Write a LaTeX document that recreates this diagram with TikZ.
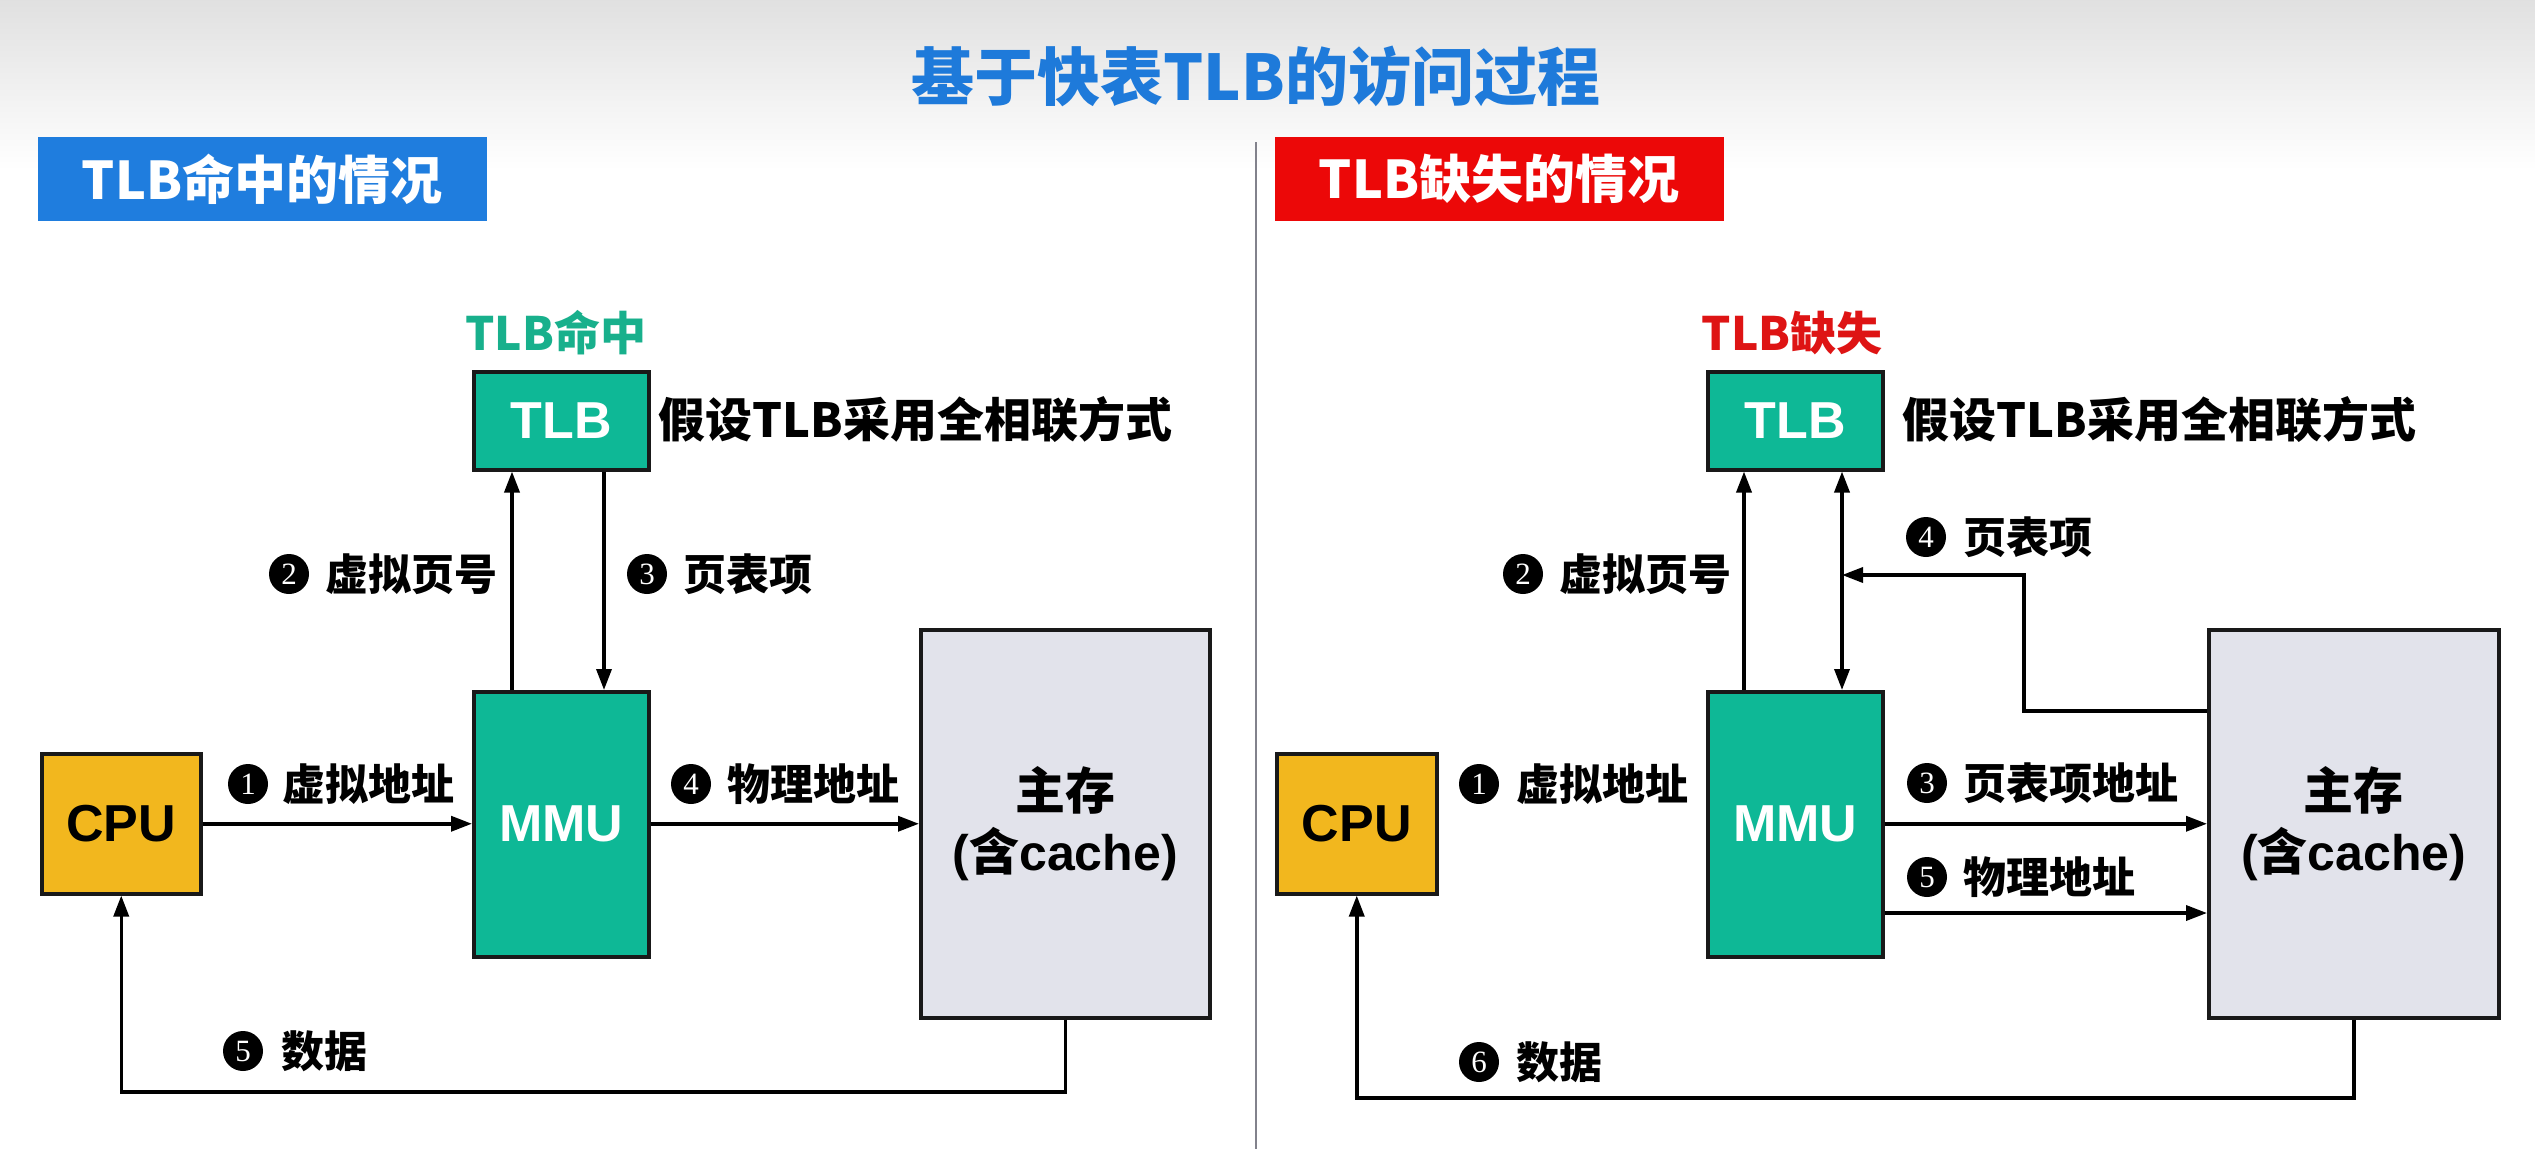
\documentclass[tikz,border=0pt]{standalone}
\usepackage{fontspec}
\setmainfont{Liberation Sans}
\newfontfamily\cjk{Noto Sans CJK SC}
\newfontfamily\serf{Liberation Serif}
\usetikzlibrary{arrows.meta,calc}
\definecolor{tealc}{RGB}{14,184,150}
\definecolor{cpuc}{RGB}{242,183,30}
\definecolor{memc}{RGB}{226,227,235}
\definecolor{titleblue}{RGB}{30,122,218}
\definecolor{hblue}{RGB}{31,125,222}
\definecolor{hred}{RGB}{236,8,8}
\definecolor{hitgreen}{RGB}{24,176,140}
\definecolor{missred}{RGB}{222,20,20}
\definecolor{divc}{RGB}{130,130,140}
\begin{document}
\begin{tikzpicture}[x=1pt,y=-1pt,
  box/.style={draw=black!90, line width=3.5pt, inner sep=0pt, anchor=north west},
  arr/.style={line width=3.5pt, -{Triangle[length=21pt,width=15pt]}},
  dbl/.style={line width=3.5pt, {Triangle[length=21pt,width=15pt]}-{Triangle[length=21pt,width=15pt]}},
  num/.style={circle, fill=black, text=white, inner sep=0pt, minimum size=40pt, font=\serf\fontsize{31}{31}\selectfont},
  lbl/.style={anchor=west, inner sep=0pt, font=\cjk\bfseries\fontsize{43}{43}\selectfont},
  boxtxt/.style={font=\bfseries\fontsize{52}{52}\selectfont},
  header/.style={minimum width=449pt, minimum height=84pt, inner sep=0pt, text=white, font=\cjk\bfseries\fontsize{52}{52}\selectfont},
  note/.style={anchor=west, inner sep=0pt, font=\cjk\bfseries\fontsize{47}{47}\selectfont},
  memtxt/.style={align=center, font=\bfseries\fontsize{50}{61}\selectfont},
]
\useasboundingbox (0,0) rectangle (2535,1149);
\fill[white] (0,0) rectangle (2535,1149);
\shade[top color=black!12, bottom color=white] (0,0) rectangle (2535,170);

% title
\node[text=titleblue, font=\cjk\bfseries\fontsize{63}{63}\selectfont] (title) at (1256,76) {基于快表TLB的访问过程};
% divider
\coordinate (divtop) at (1256,142);
\coordinate (divbot) at (1256,1149);
\draw[divc, line width=2pt] (divtop) -- (divbot);

% headers
\node[header, fill=hblue] (hdrL) at (262,179) {TLB命中的情况};
\node[header, fill=hred] (hdrR) at (1499,179) {TLB缺失的情况};

% ===== Left: TLB hit =====
\node[box, fill=tealc, minimum width=175pt, minimum height=98pt] (tlbL) at (472,370) {};
\node[boxtxt, text=white] at (tlbL.center) {TLB};
\node[box, fill=tealc, minimum width=175pt, minimum height=265pt] (mmuL) at (472,690) {};
\node[boxtxt, text=white] at (mmuL.center) {MMU};
\node[box, fill=cpuc, minimum width=159pt, minimum height=140pt] (cpuL) at (40,752) {};
\node[boxtxt] at (cpuL.center) {CPU};
\node[box, fill=memc, minimum width=289pt, minimum height=388pt] (memL) at (919,628) {};
\node[memtxt] at (memL.center) {{\cjk 主存}\\({\cjk 含}cache)};

\node[text=hitgreen, font=\cjk\bfseries\fontsize{46}{46}\selectfont] (hitL) at (556,333) {TLB命中};
\node[note] (noteL) at (658,420) {假设TLB采用全相联方式};

\draw[arr] ([xshift=40pt]mmuL.north west) -- ([xshift=40pt]tlbL.south west);
\draw[arr] ([xshift=132pt]tlbL.south west) -- ([xshift=132pt]mmuL.north west);
\draw[arr] (cpuL.east) -- (mmuL.west |- cpuL.east);
\draw[arr] (mmuL.east |- memL.west) -- (memL.west);
\coordinate (baseL) at (0,1092);
\draw[arr] (memL.south) -- (memL.south |- baseL) -| (cpuL.south);

\node[num] (n2L) at (289,574) {2};
\node[lbl] (t2L) at (325,574) {虚拟页号};
\node[num] (n3L) at (647,574) {3};
\node[lbl] (t3L) at (683,574) {页表项};
\node[num] (n1L) at (248,784) {1};
\node[lbl] (t1L) at (282,784) {虚拟地址};
\node[num] (n4L) at (691,784) {4};
\node[lbl] (t4L) at (727,784) {物理地址};
\node[num] (n5L) at (243,1051) {5};
\node[lbl] (t5L) at (281,1051) {数据};

% ===== Right: TLB miss =====
\node[box, fill=tealc, minimum width=175pt, minimum height=98pt] (tlbR) at (1706,370) {};
\node[boxtxt, text=white] at (tlbR.center) {TLB};
\node[box, fill=tealc, minimum width=175pt, minimum height=265pt] (mmuR) at (1706,690) {};
\node[boxtxt, text=white] at (mmuR.center) {MMU};
\node[box, fill=cpuc, minimum width=160pt, minimum height=140pt] (cpuR) at (1275,752) {};
\node[boxtxt] at (cpuR.center) {CPU};
\node[box, fill=memc, minimum width=290pt, minimum height=388pt] (memR) at (2207,628) {};
\node[memtxt] at (memR.center) {{\cjk 主存}\\({\cjk 含}cache)};

\node[text=missred, font=\cjk\bfseries\fontsize{46}{46}\selectfont] (missR) at (1792,333) {TLB缺失};
\node[note] (noteR) at (1902,420) {假设TLB采用全相联方式};

\draw[arr] ([xshift=38pt]mmuR.north west) -- ([xshift=38pt]tlbR.south west);
\draw[dbl] ([xshift=136pt]tlbR.south west) -- ([xshift=136pt]mmuR.north west);
\coordinate (dblB) at ([xshift=136pt]mmuR.north west);
\coordinate (p4a) at (2024,711);
\coordinate (p4b) at (2024,575);
\draw[arr] (memR.west |- p4a) -- (p4a) -- (p4b) -- (dblB |- p4b);
\draw[arr] (mmuR.east |- memR.west) -- (memR.west);
\coordinate (y5) at (0,913);
\draw[arr] (mmuR.east |- y5) -- (memR.west |- y5);
\coordinate (baseR) at (0,1098);
\draw[arr] (memR.south) -- (memR.south |- baseR) -| (cpuR.south);

\node[num] (n2R) at (1523,574) {2};
\node[lbl] (t2R) at (1559,574) {虚拟页号};
\node[num] (n4R) at (1926,537) {4};
\node[lbl] (t4R) at (1963,537) {页表项};
\node[num] (n1R) at (1479,784) {1};
\node[lbl] (t1R) at (1516,784) {虚拟地址};
\node[num] (n3R) at (1927,783) {3};
\node[lbl] (t3R) at (1963,783) {页表项地址};
\node[num] (n5R) at (1927,877) {5};
\node[lbl] (t5R) at (1963,877) {物理地址};
\node[num] (n6R) at (1479,1062) {6};
\node[lbl] (t6R) at (1516,1062) {数据};
\end{tikzpicture}
\end{document}
